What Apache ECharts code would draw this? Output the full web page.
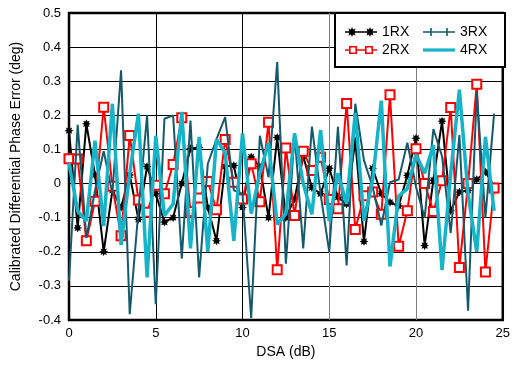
<!DOCTYPE html>
<html>
<head>
<meta charset="utf-8">
<script src="https://cdn.jsdelivr.net/npm/echarts@6/dist/echarts.min.js"></script>
<style>
    html, body { margin: 0; padding: 0; background: #fff; }
    #chart { width: 513px; height: 367px; }
</style>
</head>
<body>
<div id="chart"></div>
<script>
// DSA steps, 0 to 24.5 dB
const dsa = [
    0, 0.5, 1, 1.5, 2, 2.5, 3, 3.5, 4, 4.5, 5, 5.5, 6, 6.5, 7, 7.5, 8, 8.5, 9, 9.5,
    10, 10.5, 11, 11.5, 12, 12.5, 13, 13.5, 14, 14.5, 15, 15.5, 16, 16.5, 17, 17.5, 18, 18.5, 19, 19.5,
    20, 20.5, 21, 21.5, 22, 22.5, 23, 23.5, 24, 24.5,
];

const rx1 = [
    0.155, -0.13, 0.175, 0.025, -0.2, -0.02, -0.07, 0.025, -0.105, 0.05,
    -0.03, -0.113, -0.1, 0.0, 0.103, 0.106, -0.07, -0.168, 0.05, 0.053,
    -0.07, 0.078, 0.05, -0.1, 0.135, -0.1, -0.045, 0.08, -0.012, -0.03,
    0.045, -0.04, -0.06, 0.125, -0.17, 0.045, -0.03, -0.055, -0.066, 0.024,
    0.133, -0.182, 0.01, 0.183, -0.08, -0.025, -0.02, 0.012, 0.034, -0.008,
];

const rx2 = [
    0.073, 0.072, -0.168, -0.052, 0.224, -0.008, -0.153, 0.141, -0.048, -0.084,
    -0.005, -0.03, 0.056, 0.193, -0.082, -0.042, 0.006, -0.077, 0.129, 0.004,
    -0.045, 0.058, -0.053, 0.18, -0.253, 0.104, -0.094, 0.095, 0.038, 0.077,
    -0.047, -0.074, 0.235, -0.135, -0.036, -0.025, -0.09, 0.26, -0.184, -0.08,
    0.102, 0.0, -0.082, 0.008, 0.223, -0.246, 0.0, 0.291, -0.259, -0.013,
];

const rx3 = [
    -0.285, 0.172, -0.16, -0.02, 0.095, -0.03, 0.332, -0.383, -0.08, 0.2,
    -0.354, 0.19, 0.2, -0.22, 0.185, -0.275, 0.058, 0.13, 0.195, -0.02,
    -0.03, -0.395, 0.14, 0.018, 0.356, -0.235, 0.146, -0.19, 0.167, -0.03,
    -0.2, 0.166, -0.24, 0.234, 0.068, -0.01, -0.123, 0.004, 0.012, 0.12,
    -0.01, -0.1, 0.16, 0.08, -0.145, 0.142, -0.373, 0.268, -0.1, 0.205,
];

const rx4 = [
    0.06, -0.08, -0.11, 0.126, -0.125, 0.234, -0.18, 0.03, 0.205, -0.275,
    0.14, -0.094, -0.06, 0.21, -0.19, 0.137, -0.2, 0.13, 0.09, -0.168,
    0.147, -0.088, 0.03, 0.12, -0.12, -0.088, 0.147, 0.0, -0.09, 0.157,
    -0.11, 0.03, -0.06, 0.207, -0.11, 0.01, 0.243, -0.243, -0.037, -0.015,
    0.085, 0.03, 0.112, -0.254, 0.03, 0.275, -0.03, -0.2, 0.137, -0.08,
];

const xTicks = { min: 0, max: 25, interval: 5 };
const yTicks = { min: -0.4, max: 0.5, interval: 0.1 };

const FONT = 'Liberation Sans, Arial, sans-serif';
const BLACK = '#000';
const RED = '#ff0000';
const TEAL = '#155a6c';
const CYAN = '#16b4c9';

// 8-point star outline, centred on (cx, cy)
const starPath = (cx, cy, ro, ri) => {
    const pts = [];
    for (let k = 0; k < 16; k++) {
        const r = k % 2 ? ri : ro;
        const a = (k * Math.PI) / 8;
        pts.push(`${(cx + r * Math.cos(a)).toFixed(2)},${(cy + r * Math.sin(a)).toFixed(2)}`);
    }
    return 'M' + pts.join(' L') + ' Z';
};

const STAR = 'path://' + starPath(10, 10, 10, 5.5);

// legend icons, drawn in a 32x10 box: line plus two markers
const BAR = 'M0,4.2 L32,4.2 L32,5.8 L0,5.8 Z';
const ICON_1RX = 'path://' + BAR + ' ' + starPath(7, 5, 5, 2.8) + ' ' + starPath(25, 5, 5, 2.8);
const hollowSq = (cx) =>
    `M${cx - 4},1 L${cx + 4},1 L${cx + 4},9 L${cx - 4},9 Z ` +
    `M${cx - 2.4},2.6 L${cx - 2.4},7.4 L${cx + 2.4},7.4 L${cx + 2.4},2.6 Z`;
const ICON_2RX = 'path://M0,4.2 L4,4.2 L4,5.8 L0,5.8 Z M12,4.2 L20,4.2 L20,5.8 L12,5.8 Z M28,4.2 L32,4.2 L32,5.8 L28,5.8 Z ' +
    hollowSq(8) + ' ' + hollowSq(24);
const ICON_3RX = 'path://' + BAR + ' M7.2,1 L8.8,1 L8.8,9 L7.2,9 Z M23.2,1 L24.8,1 L24.8,9 L23.2,9 Z';
const ICON_4RX = 'path://M0,3.4 L32,3.4 L32,6.6 L0,6.6 Z';

const pairs = (ys) => dsa.map((x, i) => [x, ys[i]]);

const chart = echarts.init(document.getElementById('chart'), null, { renderer: 'canvas' });

const option = {
    animation: false,
    textStyle: { fontFamily: FONT, color: BLACK },
    grid: {
        left: 69,
        right: 10,
        top: 13,
        bottom: 47,
        show: true,
        borderColor: BLACK,
        borderWidth: 2.5,
        backgroundColor: 'transparent',
    },
    legend: {
        data: [
            { name: '1RX', icon: ICON_1RX, itemStyle: { color: BLACK, borderWidth: 0 } },
            { name: '3RX', icon: ICON_3RX, itemStyle: { color: TEAL, borderWidth: 0 } },
            { name: '2RX', icon: ICON_2RX, itemStyle: { color: RED, borderWidth: 0 } },
            { name: '4RX', icon: ICON_4RX, itemStyle: { color: CYAN, borderWidth: 0 } },
        ],
        left: 335,
        top: 13,
        width: 170,
        padding: [11, 6, 9, 10],
        itemWidth: 32,
        itemHeight: 10,
        itemGap: 2,
        borderColor: BLACK,
        borderWidth: 2,
        backgroundColor: '#fff',
        textStyle: { fontSize: 14, fontFamily: FONT, color: BLACK, width: 39, lineHeight: 16 },
    },
    xAxis: {
        type: 'value',
        ...xTicks,
        name: 'DSA (dB)',
        nameLocation: 'middle',
        nameGap: 24,
        nameTextStyle: { fontSize: 14, fontFamily: FONT, color: BLACK },
        axisLine: { show: false },
        axisTick: { show: false },
        axisLabel: { fontSize: 13, color: BLACK, margin: 7 },
        splitLine: {
            show: true,
            lineStyle: { color: [BLACK, BLACK, BLACK, '#808080', '#808080', BLACK], width: 1 },
        },
    },
    yAxis: {
        type: 'value',
        ...yTicks,
        name: 'Calibrated Differential Phase Error (deg)',
        nameLocation: 'middle',
        nameGap: 46,
        nameTextStyle: { fontSize: 14, fontFamily: FONT, color: BLACK },
        axisLine: { show: false },
        axisTick: { show: false },
        axisLabel: {
            fontSize: 13,
            color: BLACK,
            margin: 8,
            formatter: (v) => (Math.abs(v) < 1e-9 ? '0' : v.toFixed(1)),
        },
        splitLine: { show: true, lineStyle: { color: BLACK, width: 1 } },
    },
    series: [
        {
            name: '1RX',
            type: 'line',
            data: pairs(rx1),
            symbol: STAR,
            symbolSize: 9,
            lineStyle: { color: BLACK, width: 2 },
            itemStyle: { color: BLACK },
            z: 2,
        },
        {
            name: '2RX',
            type: 'line',
            data: pairs(rx2),
            symbol: 'rect',
            symbolSize: 9,
            lineStyle: { color: RED, width: 2 },
            itemStyle: { color: '#fff', borderColor: RED, borderWidth: 2 },
            z: 3,
        },
        {
            name: '3RX',
            type: 'line',
            data: pairs(rx3),
            symbol: 'none',
            lineStyle: { color: TEAL, width: 2 },
            itemStyle: { color: TEAL },
            z: 4,
        },
        {
            name: '4RX',
            type: 'line',
            data: pairs(rx4),
            symbol: 'none',
            lineStyle: { color: CYAN, width: 3.5 },
            itemStyle: { color: CYAN },
            z: 5,
        },
    ],
};

chart.setOption(option);
</script>
</body>
</html>
